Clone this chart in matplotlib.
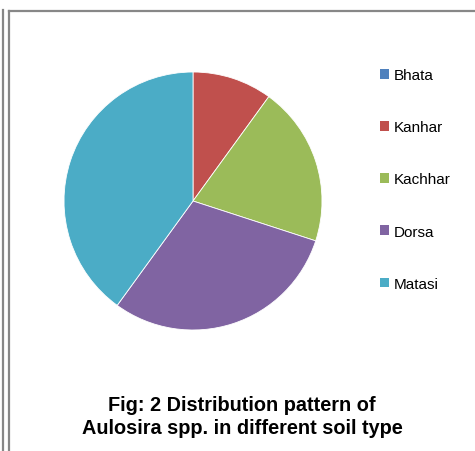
import matplotlib
matplotlib.use("Agg")
import matplotlib.pyplot as plt
from matplotlib.lines import Line2D
from matplotlib.patches import Patch

plt.rcParams['font.family'] = ['Liberation Sans', 'DejaVu Sans']

soils = ['Bhata', 'Kanhar', 'Kachhar', 'Dorsa', 'Matasi']
values = [0, 1, 2, 3, 4]
colors = ['#4F81BD', '#C0504D', '#9BBB59', '#8064A2', '#4BACC6']

W, H = 475, 452
fig = plt.figure(figsize=(W / 100, H / 100), dpi=100)

# pie: centre ~(193,202) px, radius ~129 px
r = 129
ax = fig.add_axes([(193 - r) / W, (H - 202 - r) / H, 2 * r / W, 2 * r / H])
ax.pie(values, colors=colors, startangle=90, counterclock=False,
       wedgeprops=dict(edgecolor='white', linewidth=0.6))
ax.set_xlim(-1, 1)
ax.set_ylim(-1, 1)
ax.set_aspect('equal')

handles = [Patch(facecolor=c, edgecolor='none') for c in colors]
fig.legend(handles, soils, loc='upper left', bbox_to_anchor=(374 / W, 1 - 63 / H),
           frameon=False, fontsize=11, handlelength=0.6, handleheight=0.6,
           handletextpad=0.3, labelspacing=2.5, borderaxespad=0)

fig.text(242 / W, 1 - 417 / H, 'Fig: 2 Distribution pattern of\nAulosira spp. in different soil type',
         ha='center', va='center', fontsize=14.3, fontweight='bold', linespacing=1.25)

# frame lines
grey = '#878787'
fig.add_artist(Line2D([2.5 / W, 2.5 / W], [0, 1 - 11 / H], color=grey, lw=1.6))
fig.add_artist(Line2D([8.5 / W, 8.5 / W], [0, 1 - 12 / H], color=grey, lw=1.6))
fig.add_artist(Line2D([8.5 / W, 1], [1 - 12 / H, 1 - 12 / H], color=grey, lw=1.6))

fig.savefig('out.png', dpi=100)
